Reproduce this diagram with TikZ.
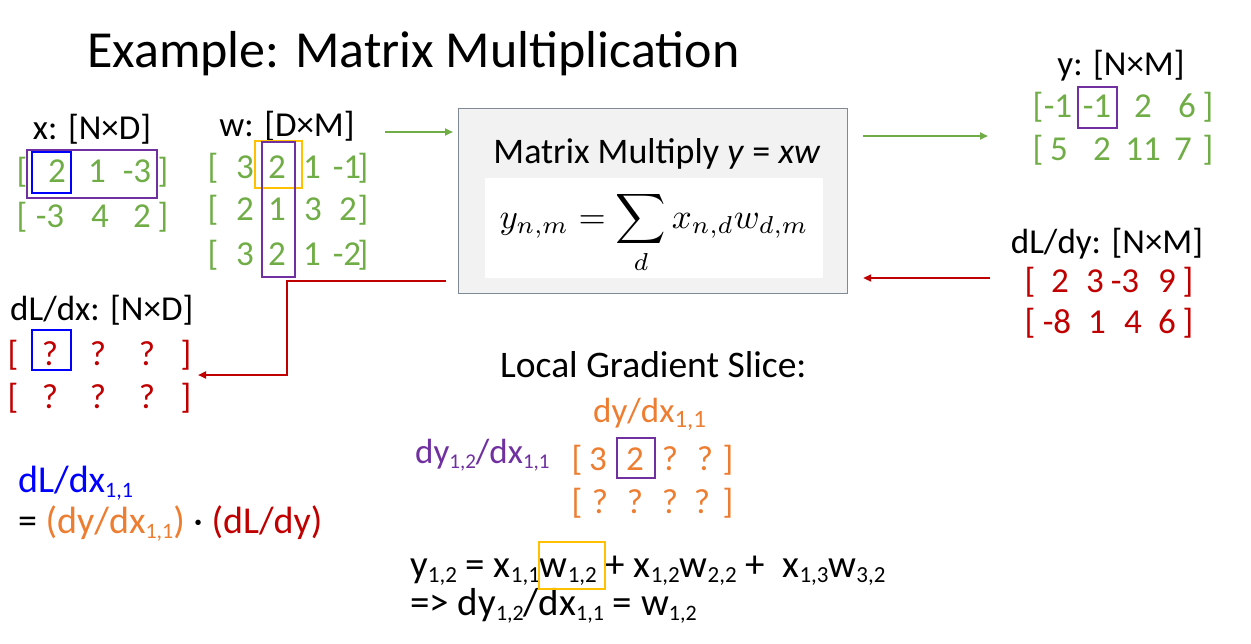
\documentclass[tikz,border=0pt]{standalone}
\usepackage{amsmath}
\usepackage{fontspec}
\setmainfont{Carlito}
\usetikzlibrary{arrows.meta}
\definecolor{cgreen}{HTML}{70AD47}
\definecolor{cred}{HTML}{C00000}
\definecolor{cblue}{HTML}{0000FF}
\definecolor{cpurple}{HTML}{7030A0}
\definecolor{corange}{HTML}{ED7D31}
\definecolor{cyellow}{HTML}{FFC000}
\definecolor{boxfill}{HTML}{F2F2F2}
\definecolor{boxline}{HTML}{7F8A94}
\newcommand\bodyfont{\fontsize{35}{40}\selectfont}
\newcommand\fsz[1]{\fontsize{#1}{#1}\selectfont}
\newcommand\sbs[2][23]{\raisebox{-5pt}{\fontsize{#1}{#1}\selectfont #2}}
\tikzset{
  txt/.style={font=\bodyfont, anchor=base, inner sep=0pt},
  txtw/.style={txt, anchor=base west},
  hl/.style={line width=2pt},
  garrow/.style={draw=cgreen, line width=2pt, -{Triangle[length=8pt,width=7pt]}},
  rarrow/.style={draw=cred, line width=2pt, -{Triangle[length=8pt,width=7pt]}},
}
\begin{document}
\begin{tikzpicture}[x=1pt,y=-1pt]
\useasboundingbox (0,0) rectangle (1251,643);
% title
\node[anchor=base west, inner sep=0pt, font=\fsz{52}] (title) at (87,67) {Example: Matrix Multiplication};
% x
\node[txt] (xl) at (92,139) {x: [N×D]};
\foreach \xx/\s [count=\i] in {22/[,57/2,97/1,137/-3,163/]}
  \node[txt, text=cgreen] (xa\i) at (\xx,182) {\s};
\foreach \xx/\s [count=\i] in {22/[,50/-3,100/4,142/2,163/]}
  \node[txt, text=cgreen] (xb\i) at (\xx,227) {\s};
\draw[hl, cpurple] (27,150) rectangle (157,198);
\draw[hl, cblue] (32,152) rectangle (71,193);
% w
\node[txt] (wl) at (287,136) {w: [D×M]};
\foreach \xx/\s [count=\i] in {213/[,245/3,277/2,312/1,347/-1,363/]}
  \node[txt, text=cgreen] (wa\i) at (\xx,178) {\s};
\foreach \xx/\s [count=\i] in {213/[,245/2,277/1,313/3,348/2,363/]}
  \node[txt, text=cgreen] (wb\i) at (\xx,220) {\s};
\foreach \xx/\s [count=\i] in {213/[,245/3,277/2,312/1,347/-2,363/]}
  \node[txt, text=cgreen] (wc\i) at (\xx,265) {\s};
\draw[hl, cyellow] (255,141) rectangle (302,188);
\draw[hl, cpurple] (262,142) rectangle (295,277);
% main box
\node[draw=boxline, fill=boxfill, line width=1.2pt, minimum width=389pt, minimum height=185pt, anchor=north west, inner sep=0pt] (mm) at (458,108) {};
\node[fill=white, minimum width=338pt, minimum height=100pt, anchor=north west, inner sep=0pt] (inner) at (485,178) {};
\node[anchor=base, inner sep=0pt, font=\fsz{36}] (mmt) at (657,163) {Matrix Multiply \textit{y} = \textit{xw}};
\node[anchor=base, inner sep=0pt, font=\fsz{10}, scale=3.5] (formula) at (654,228) {$\displaystyle y_{n,m} = \sum_d x_{n,d}w_{d,m}$};
% y
\node[txt] (yl) at (1121,75) {y: [N×M]};
\foreach \xx/\s [count=\i] in {1038/[,1058/-1,1097/-1,1143/2,1187/6,1208/]}
  \node[txt, text=cgreen] (ya\i) at (\xx,117) {\s};
\foreach \xx/\s [count=\i] in {1038/[,1059/5,1102/2,1143/11,1183/7,1208/]}
  \node[txt, text=cgreen] (yb\i) at (\xx,160) {\s};
\draw[hl, cpurple] (1078,87) rectangle (1117,128);
% dL/dy
\node[txt] (dyl) at (1107,253) {dL/dy: [N×M]};
\foreach \xx/\s [count=\i] in {1030/[,1060/2,1095/3,1125/-3,1167/9,1188/]}
  \node[txt, text=cred] (dya\i) at (\xx,292) {\s};
\foreach \xx/\s [count=\i] in {1030/[,1057/-8,1097/1,1133/4,1167/6,1188/]}
  \node[txt, text=cred] (dyb\i) at (\xx,333) {\s};
% dL/dx
\node[txtw] (dxl) at (10,320) {dL/dx: [N×D]};
\foreach \xx/\s [count=\i] in {13/[,50/?,98/?,147/?,186/]}
  \node[txt, text=cred] (dxa\i) at (\xx,365) {\s};
\foreach \xx/\s [count=\i] in {13/[,50/?,98/?,147/?,186/]}
  \node[txt, text=cred] (dxb\i) at (\xx,408) {\s};
\draw[hl, cblue] (32,330) rectangle (71,370);
% arrows
\coordinate (win) at (385,132);
\coordinate (yin) at (988,136);
\coordinate (dyout) at (990,278);
\coordinate (dxbend) at (287,375);
\coordinate (dxin) at (198,375);
\draw[garrow, shorten >=5pt] (win) -- (mm.west |- win);
\draw[garrow, shorten <=15pt] (mm.east |- yin) -- (yin);
\draw[rarrow, shorten >=15pt] (dyout) -- (mm.east |- dyout);
\draw[rarrow] ([xshift=-12pt]mm.west |- 0,281) -| (dxbend) -- (dxin);
% local gradient slice
\node[txtw, font=\fsz{37.5}] (lgs) at (500,377) {Local Gradient Slice:};
\node[txtw, text=corange] (dydx) at (593,422) {dy/dx\sbs[25]{1,1}};
\node[txtw, text=cpurple] (dy12) at (415,463) {dy\sbs[21]{1,2}/dx\sbs[21]{1,1}};
\foreach \xx/\s [count=\i] in {577/[,598/3,635/2,670/?,705/?,728/]}
  \node[txt, text=corange] (ga\i) at (\xx,470) {\s};
\foreach \xx/\s [count=\i] in {577/[,600/?,635/?,670/?,702/?,728/]}
  \node[txt, text=corange] (gb\i) at (\xx,513) {\s};
\draw[hl, cpurple] (617,438) rectangle (655,478);
% bottom-left
\node[txtw, font=\fsz{38}, text=cblue] (dldx11) at (18,492) {dL/dx\sbs[22]{1,1}};
\node[txtw, font=\fsz{38}] (chain) at (18,533) {= \textcolor{corange}{(dy/dx\sbs[22]{1,1})} · \textcolor{cred}{(dL/dy)}};
% bottom
\node[txtw, font=\fsz{39}] (eq1) at (410,577) {y\sbs[23]{1,2} = x\sbs[23]{1,1}w\sbs[23]{1,2} + x\sbs[23]{1,2}w\sbs[23]{2,2} +\ \ x\sbs[23]{1,3}w\sbs[23]{3,2}};
\node[txtw, font=\fsz{39}] (eq2) at (410,615) {=> dy\sbs[22]{1,2}/dx\sbs[22]{1,1} = w\sbs[22]{1,2}};
\draw[hl, cyellow] (539,542) rectangle (605,589);
\end{tikzpicture}
\end{document}
